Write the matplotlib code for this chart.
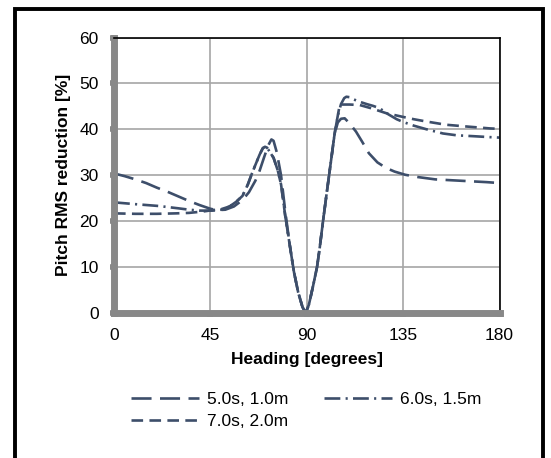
import matplotlib.pyplot as plt
import matplotlib.patches as mpatches

heading_1 = [0, 5, 10, 15, 20, 25, 30, 35, 40, 45, 48, 52, 56, 60, 63, 66, 68, 70, 72, 73.5, 74.5, 76, 78, 80, 82, 84, 86, 88, 89.5,
             91, 93, 94.8, 96, 97.6, 99, 101, 103, 104.5, 106, 107.7, 110, 113, 116, 119, 123, 127, 131, 136, 142, 150, 158, 166, 174, 180]
pitch_1 = [30.4, 29.8, 29.1, 28.3, 27.3, 26.4, 25.4, 24.4, 23.5, 22.7, 22.4, 22.5, 23.2, 24.6, 26.3, 28.8, 31, 33.8, 36.5, 37.8, 37.5, 35, 30, 22, 15, 9, 4.5, 1.3, 0,
           1.8, 6, 10, 14, 20, 25, 32, 39, 41.5, 42.3, 42.4, 41.3, 39.5, 37.2, 34.8, 32.8, 31.6, 30.8, 30.1, 29.6, 29.1, 28.9, 28.7, 28.5, 28.3]
heading_2 = [0, 10, 21, 30, 35, 40, 46, 50, 54, 57, 60, 62.5, 64.5, 66.5, 68, 69.5, 70.5, 71.5, 72.7, 74.5, 76.5, 78, 80, 82, 84, 86, 88, 89.5,
             91, 93, 94.8, 96, 97.6, 99, 101, 103, 104.5, 106, 107.5, 108.5, 110, 112, 114.7, 118, 121, 124, 128, 132, 135, 140, 146, 153.6, 160, 168, 175.5, 180]
pitch_2 = [24.1, 23.7, 23.3, 22.8, 22.5, 22.3, 22.3, 22.5, 23.2, 24.2, 25.5, 28, 30.5, 32.8, 34.5, 35.9, 36.2, 36, 35.1, 33.8, 31, 28, 21, 15, 9, 4.5, 1.3, 0,
           1.8, 6, 10, 14, 20, 25, 32, 39, 43, 45.5, 46.8, 47.1, 47, 46.5, 46, 45.5, 45.1, 44.6, 43.3, 42.2, 41.6, 40.8, 40, 39.1, 38.7, 38.5, 38.3, 38.2]
heading_3 = [0, 10, 20, 29, 35, 41.5, 46, 50, 54, 57, 60, 62.5, 64.5, 66.5, 68, 69.5, 70.5, 71.5, 72.7, 74.5, 76.5, 78, 80, 82, 84, 86, 88, 89.5,
             91, 93, 94.8, 96, 97.6, 99, 101, 103, 104.5, 105.4, 107, 110, 114.7, 120, 127.2, 135, 140, 145.9, 155, 165, 175.5, 180]
pitch_3 = [21.7, 21.6, 21.6, 21.7, 21.8, 22.1, 22.4, 22.6, 23.2, 24.2, 25.5, 28, 30.5, 32.8, 34.5, 35.9, 36.2, 36, 35.1, 33.8, 31, 28, 21, 15, 9, 4.5, 1.3, 0,
           1.8, 6, 10, 14, 20, 25, 32, 39, 43, 45.3, 45.4, 45.4, 45.3, 44.6, 43.5, 42.7, 42.2, 41.7, 41, 40.6, 40.2, 40.1]
labels = ['5.0s, 1.0m', '6.0s, 1.5m', '7.0s, 2.0m']
xticks = [0, 45, 90, 135, 180]
yticks = [0, 10, 20, 30, 40, 50, 60]

color = '#3d4e6a'
W, H = 551, 458
plt.rcParams['font.family'] = ['Liberation Sans', 'DejaVu Sans']

fig = plt.figure(figsize=(W / 100, H / 100), dpi=100)
ax = fig.add_axes([114 / W, 1 - 313 / H, 385.5 / W, 275.5 / H])

l1, = ax.plot(heading_1, pitch_1, color=color, lw=1.9, dashes=(7.6, 3.2), label=labels[0])
l2, = ax.plot(heading_2, pitch_2, color=color, lw=1.9, dashes=(6, 2, 0.8, 2), label=labels[1])
l3, = ax.plot(heading_3, pitch_3, color=color, lw=1.9, dashes=(4.4, 2.4), label=labels[2])
for ln in (l1, l2, l3):
    ln.set_clip_on(False)

ax.set_xlim(0, 180)
ax.set_ylim(0, 60)
ax.set_xticks(xticks)
ax.set_yticks(yticks)
ax.grid(True, color='#a6a6a6', lw=1.2)
ax.set_axisbelow(True)
ax.tick_params(axis='both', labelsize=12.5, colors='#888888', labelcolor='black')
ax.tick_params(axis='y', length=3, width=4, pad=8)
ax.tick_params(axis='x', length=3, width=4, pad=8)
for side in ['left', 'bottom']:
    ax.spines[side].set_color('#888888')
    ax.spines[side].set_linewidth(5)
for side in ['top', 'right']:
    ax.spines[side].set_color('black')
    ax.spines[side].set_linewidth(1.2)
ax.set_xlabel('Heading [degrees]', fontsize=12.5, fontweight='bold', labelpad=6)
ax.set_ylabel('Pitch RMS reduction [%]', fontsize=12.5, fontweight='bold', labelpad=6)

# legend fills row by row in the original, matplotlib fills by column
fig.legend([l1, l3, l2], [labels[0], labels[2], labels[1]], loc='upper left',
           bbox_to_anchor=(131 / W, 1 - 392 / H), ncol=2, frameon=False,
           fontsize=12.5, handlelength=3.9, handletextpad=0.45, columnspacing=2.1,
           labelspacing=0.4, borderpad=0, borderaxespad=0)

fig.patches.append(mpatches.Rectangle((15 / W, -0.05), 528 / W, 1 - 9 / H + 0.05,
                                      transform=fig.transFigure, fill=False, edgecolor='black', lw=2.8))

fig.savefig('out.png', dpi=100)
